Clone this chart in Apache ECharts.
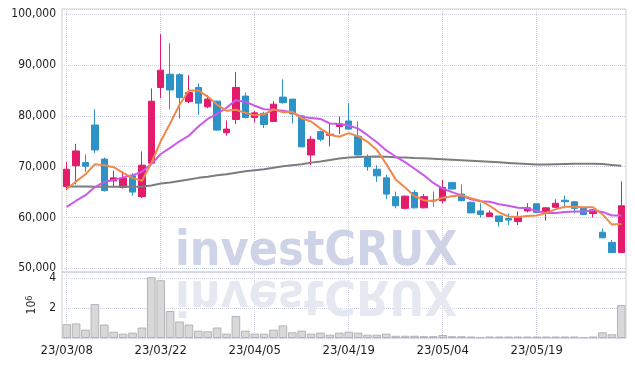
<!DOCTYPE html>
<html><head><meta charset="utf-8">
<script src="https://cdn.jsdelivr.net/npm/echarts@6/dist/echarts.min.js"></script>
<style>html,body{margin:0;padding:0;background:#fff}#c{width:635px;height:366px}</style>
</head><body><div id="c"></div>
<script>
const dates = ['23/03/08','23/03/09','23/03/10','23/03/13','23/03/14','23/03/15','23/03/16','23/03/17','23/03/20','23/03/21',
 '23/03/22','23/03/23','23/03/24','23/03/27','23/03/28','23/03/29','23/03/30','23/03/31','23/04/03','23/04/04',
 '23/04/05','23/04/06','23/04/07','23/04/10','23/04/11','23/04/12','23/04/13','23/04/14','23/04/17','23/04/18',
 '23/04/19','23/04/20','23/04/21','23/04/24','23/04/25','23/04/26','23/04/27','23/04/28','23/05/02','23/05/03',
 '23/05/04','23/05/08','23/05/09','23/05/10','23/05/11','23/05/12','23/05/15','23/05/16','23/05/17','23/05/18',
 '23/05/19','23/05/22','23/05/23','23/05/24','23/05/25','23/05/26','23/05/30','23/05/31','23/06/01','23/06/02'];
const opens = [66100,70200,70800,78200,71500,67200,65900,68200,64100,70700,
 85600,88200,88100,82800,85600,81800,82900,76700,79300,83900,
 79700,80500,78900,83700,83300,80000,72300,76900,76200,77900,
 79000,76000,71800,69500,67800,64100,61800,64900,61900,63400,
 63300,66900,64600,63000,61300,60200,60300,59800,59200,61300,
 62700,61200,62000,63400,63100,61800,60800,57100,55100,53100];
const closes = [69500,73100,70100,73300,65300,67800,67700,65000,70300,82900,
 89000,85100,83600,84600,82500,83300,77200,77400,85600,79700,
 80600,78300,82300,82600,80400,73900,75400,75400,76400,78400,
 77400,72300,70000,68200,64600,62300,64200,61900,64100,63300,
 65900,65600,63300,60900,60600,60900,59200,59500,60200,61900,
 61000,61900,62800,63100,61800,60600,61500,56000,53100,62300];
const lows = [65400,66500,69000,72700,65100,66200,65700,64300,63800,70500,
 83500,81300,79500,82500,80200,81500,77100,76100,78400,79500,
 78700,77600,78800,82400,78500,73900,70300,75000,74000,76400,
 77300,72200,69200,67000,63600,61800,61600,61800,61800,62100,
 62800,65500,63200,60900,60000,60100,58200,58500,58500,61000,
 60900,59400,62000,61800,60800,60500,60000,55900,53000,53000];
const highs = [70900,74500,72400,81300,71800,69200,69000,68700,73000,85400,
 96100,94300,88400,88000,86400,84100,83000,79100,88600,84600,
 81000,80800,82900,87200,83300,80000,76000,77100,78500,79900,
 82500,78900,72400,70300,68400,65100,64300,65400,64600,65100,
 67400,66900,66500,63100,62800,61400,60300,60800,61200,62800,
 62700,62000,63600,64300,63200,61900,61600,57800,55600,67100];
const ma5 = [65600,67100,68500,70500,70300,69900,68800,67800,67200,70700,
 75000,78500,82200,85000,85000,83800,82200,81000,81200,80600,
 80100,80300,81300,80700,80800,79500,78900,77500,76300,75900,
 76600,76000,74900,73300,70500,67500,65900,64200,63400,63200,
 63900,64200,64400,63800,63300,62300,61000,60200,60100,60300,
 60400,60900,61600,62100,62100,62000,62000,60600,58600,58700];
const ma10 = [62100,63300,64400,66000,67000,67400,67900,68300,69000,70500,
 72500,73700,75000,76100,77900,79400,80400,81600,83100,82800,
 82000,81300,81200,81000,80700,79800,79600,79400,78500,78400,
 78100,77500,76200,74800,73200,72000,70900,69600,68300,66800,
 65700,65000,64300,63600,63200,63100,62600,62300,61900,61800,
 61300,60900,60900,61100,61200,61200,61400,61100,60400,60400];
const maLong = [66100,66100,66100,66050,66050,66050,66050,66050,66100,66300,
 66700,66900,67200,67500,67800,68000,68300,68500,68800,69100,
 69300,69500,69800,70100,70300,70500,70800,71000,71300,71600,
 71800,71900,71950,72000,71950,71850,71800,71700,71650,71550,
 71450,71350,71250,71150,71050,70950,70850,70750,70650,70550,
 70450,70450,70500,70550,70600,70600,70600,70550,70350,70200];
const volumes = [920000,970000,560000,2270000,900000,420000,290000,360000,700000,4050000,
 3850000,1800000,1100000,900000,490000,450000,700000,290000,1470000,490000,
 290000,290000,560000,840000,380000,490000,290000,360000,220000,360000,
 420000,360000,220000,220000,290000,150000,150000,150000,120000,120000,
 200000,120000,120000,100000,60000,100000,100000,100000,100000,100000,
 100000,100000,100000,100000,100000,60000,100000,380000,250000,2200000];
const priceTicksMin = 49270, priceTicksMax = 101040;
const volMax = 4400000, volStep = 2000000;

const FONT = '"DejaVu Sans Condensed", "DejaVu Sans", sans-serif';
const GRIDC = '#cdd0e0';
const chart = echarts.init(document.getElementById('c'), null, {renderer: 'canvas'});
const ohlc = dates.map((d, i) => [opens[i], closes[i], lows[i], highs[i]]);
const split = {show: true, lineStyle: {type: 'dotted', color: GRIDC, width: 1}};
chart.setOption({
  animation: false,
  grid: [
    {left: 62, right: 9, top: 9, height: 263, show: true, borderColor: '#d0d0d0', borderWidth: 1},
    {left: 62, right: 9, top: 272, bottom: 28, show: true, borderColor: '#d0d0d0', borderWidth: 1}
  ],
  xAxis: [
    {type: 'category', gridIndex: 0, data: dates, axisLine: {show: false}, axisTick: {show: false, alignWithLabel: true},
     axisLabel: {show: false, interval: 9}, splitLine: Object.assign({interval: 9, alignWithLabel: true}, split)},
    {type: 'category', gridIndex: 1, data: dates, axisLine: {show: false}, axisTick: {show: false, alignWithLabel: true},
     axisLabel: {interval: 9, fontFamily: FONT, fontSize: 13, fontWeight: 500, color: '#1e1e1e', margin: 6},
     splitLine: Object.assign({interval: 9, alignWithLabel: true}, split)}
  ],
  yAxis: [
    {type: 'value', gridIndex: 0, min: priceTicksMin, max: priceTicksMax, splitNumber: 5,
     axisLine: {show: false}, axisTick: {show: false},
     axisLabel: {showMinLabel: false, showMaxLabel: false, fontFamily: FONT, fontSize: 12, color: '#1e1e1e', margin: 6,
       formatter: v => v.toLocaleString('en-US')},
     splitLine: split},
    {type: 'value', gridIndex: 1, min: 0, max: volMax, interval: volStep,
     axisLine: {show: false}, axisTick: {show: false},
     axisLabel: {showMinLabel: false, showMaxLabel: false, fontFamily: FONT, fontSize: 12, color: '#1e1e1e', margin: 6,
       formatter: v => String(v / 1e6)},
     splitLine: split,
     name: '{a|10}{b|6}', nameLocation: 'middle', nameRotate: 90, nameGap: 22,
     nameTextStyle: {rich: {a: {fontFamily: FONT, fontSize: 12, color: '#333'}, b: {fontFamily: FONT, fontSize: 9, color: '#333', verticalAlign: 'top', padding: [0, 0, 6, 0]}}}}
  ],
  graphic: [
    {type: 'text', x: 175, y: 253, z: 1, silent: true,
     style: {text: 'investCRUX', font: 'bold 48px "DejaVu Sans Condensed"', fill: '#ced3e8', verticalAlign: 'middle'}},
    {type: 'text', x: 175, y: 293, z: 1, scaleY: -1, silent: true,
     style: {text: 'investCRUX', font: 'bold 48px "DejaVu Sans Condensed"', fill: '#e6e8f1', verticalAlign: 'middle'}}
  ],
  series: [
    {type: 'candlestick', xAxisIndex: 0, yAxisIndex: 0, data: ohlc, barWidth: 7, z: 3,
     itemStyle: {color: '#e31b6b', color0: '#2d93c6', borderColor: '#e31b6b', borderColor0: '#2d93c6', borderWidth: 1}},
    {type: 'line', xAxisIndex: 0, yAxisIndex: 0, data: maLong, symbol: 'none', z: 4, lineStyle: {color: '#7d7d7d', width: 2}},
    {type: 'line', xAxisIndex: 0, yAxisIndex: 0, data: ma10, symbol: 'none', z: 4, lineStyle: {color: '#cc58ea', width: 2}},
    {type: 'line', xAxisIndex: 0, yAxisIndex: 0, data: ma5, symbol: 'none', z: 5, lineStyle: {color: '#f0884c', width: 2}},
    {type: 'bar', xAxisIndex: 1, yAxisIndex: 1, data: volumes, barCategoryGap: '8%',
     itemStyle: {color: '#d8d8d8', borderColor: '#b4b4b4', borderWidth: 1}}
  ]
});
</script></body></html>
